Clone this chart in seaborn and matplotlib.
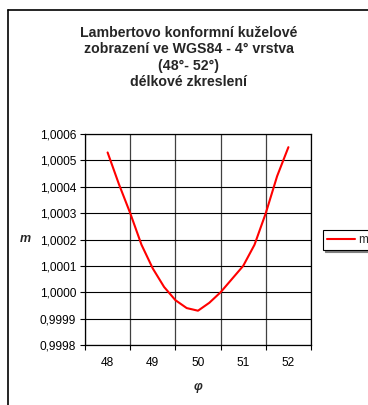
import matplotlib
matplotlib.use("Agg")
import matplotlib.pyplot as plt
from matplotlib.ticker import FuncFormatter, FixedLocator
from matplotlib.lines import Line2D
import seaborn as sns
import pandas as pd

# latitude (degrees) and scale factor of the Lambert conformal conic projection
phi = [48.0, 48.25, 48.5, 48.75, 49.0, 49.25, 49.5, 49.75, 50.0,
       50.25, 50.5, 50.75, 51.0, 51.25, 51.5, 51.75, 52.0]
m = [1.00053, 1.00041, 1.00030, 1.00018, 1.00009, 1.00002, 0.99997, 0.99994, 0.99993,
     0.99996, 1.00000, 1.00005, 1.00010, 1.00018, 1.00030, 1.00044, 1.00055]
x_labels = [48, 49, 50, 51, 52]
y_ticks = [0.9998, 0.9999, 1.0000, 1.0001, 1.0002, 1.0003, 1.0004, 1.0005, 1.0006]

title = ("Lambertovo konformní kuželové\n"
         "zobrazení ve WGS84 - 4° vrstva\n"
         "(48°- 52°)\n"
         "délkové zkreslení")

sns.set_style("white")
plt.rcParams["font.family"] = ["Liberation Sans", "DejaVu Sans"]

W, H = 368, 405
fig = plt.figure(figsize=(W / 100, H / 100), dpi=100)
ax = fig.add_axes([85 / W, 1 - 345 / H, (311 - 85) / W, (345 - 134) / H])

df = pd.DataFrame({"φ": phi, "m": m})
sns.lineplot(data=df, x="φ", y="m", color="#ff0000", lw=1.5, ax=ax, label="m")

ax.set_xlim(47.5, 52.5)
ax.set_ylim(y_ticks[0], y_ticks[-1])

# category-style x axis: labels at integers, ticks and gridlines between them
ax.xaxis.set_major_locator(FixedLocator(x_labels))
ax.xaxis.set_minor_locator(FixedLocator([v + 0.5 for v in range(47, 53)]))
ax.set_xticklabels([str(v) for v in x_labels])
ax.tick_params(axis="x", which="major", length=0, pad=9, labelsize=8.6, colors="black")
ax.tick_params(axis="x", which="minor", bottom=True, direction="out", length=3.5,
               width=0.8, color="black")
ax.grid(True, axis="x", which="minor", color="#404040", lw=0.9)

ax.yaxis.set_major_locator(FixedLocator(y_ticks))
ax.yaxis.set_major_formatter(FuncFormatter(lambda v, p: f"{v:.4f}".replace(".", ",")))
ax.tick_params(axis="y", which="major", left=True, direction="out", length=3.5,
               width=0.8, color="black", labelsize=8.6, pad=3, labelcolor="black")
ax.grid(True, axis="y", which="major", color="black", lw=0.8)

for s in ax.spines.values():
    s.set_visible(True)
    s.set_color("black")
    s.set_linewidth(0.9)

ax.set_xlabel("φ", fontsize=9, fontweight="bold", fontstyle="italic", labelpad=8)
ax.set_ylabel("m", fontsize=9, fontweight="bold", fontstyle="italic", rotation=0,
              labelpad=10, va="center")

fig.text(189 / W, 1 - 57.5 / H, title, ha="center", va="center", fontsize=10.2,
         fontweight="bold", linespacing=1.24)

leg = ax.legend(loc="center left", bbox_to_anchor=(323 / W, 1 - 240 / H),
                bbox_transform=fig.transFigure, frameon=True, fancybox=False,
                fontsize=8.5, handlelength=2.4, handletextpad=0.3, borderpad=0.3,
                borderaxespad=0, shadow={"ox": 1.5, "oy": -1.5, "color": "#808080", "alpha": 1})
leg.get_frame().set_edgecolor("black")
leg.get_frame().set_linewidth(0.8)

# chart area border (left and top edges)
fig.add_artist(Line2D([8 / W, 8 / W], [0, 1 - 9.5 / H], transform=fig.transFigure,
                      color="black", lw=1.2))
fig.add_artist(Line2D([8 / W, 1], [1 - 9.5 / H, 1 - 9.5 / H], transform=fig.transFigure,
                      color="black", lw=1.2))

fig.savefig("out.png", dpi=100, facecolor="white")
